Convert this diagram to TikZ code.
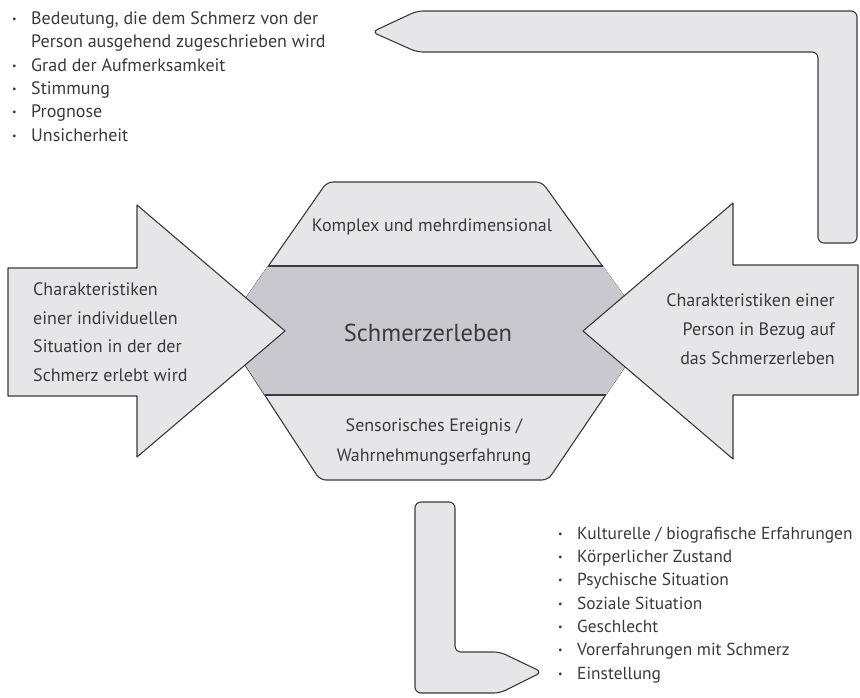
\documentclass[tikz,border=0pt]{standalone}
\usepackage{fontspec}
\setmainfont{PT Sans}
\usetikzlibrary{positioning}

\definecolor{shade}{HTML}{E6E6E8}
\definecolor{core}{HTML}{C8C8CE}
\definecolor{ink}{HTML}{3A3A3A}
\newcommand\bul{\makebox[19pt][l]{\raisebox{2pt}{\fontsize{10}{10}\selectfont\textbullet}}}
\newcommand\gap{\hspace*{19pt}}

\tikzset{
  panel/.style={draw=ink, fill=shade, line width=1.1pt, line join=round},
  soft/.style={panel, rounded corners=6pt},
  band/.style={draw=ink, line width=2.4pt},
  txt/.style={text=ink, inner sep=0pt, font=\fontsize{18}{23.3}\selectfont},
  list/.style={txt, align=left, anchor=base west},
}

\begin{document}
\begin{tikzpicture}[x=1pt, y=-1pt]
    \useasboundingbox (0,0) rectangle (860,697);

    % feedback arrow, top
    \draw[soft] (372,32) -- (417,11) -- (857,11) -- (857,243) -- (818,243)
        -- (818,52) -- (417,52) -- cycle;
    % feedforward arrow, bottom
    \draw[soft] (455,652) -- (500,652) -- (542,672) -- (500,693)
        -- (415,693) -- (415,502) -- (455,502) -- cycle;

    % hexagon
    \draw[soft] (327,182) -- (542,182) -- (649,331) -- (548,480)
        -- (320,480) -- (223,331) -- cycle;
    \fill[core] (268,266) -- (603,266) -- (649,331) -- (606,395)
        -- (265,395) -- (223,331) -- cycle;
    \draw[band] (268,266) -- (603,266);
    \draw[band] (265,395) -- (606,395);

    % side arrows
    \draw[panel] (8,268) -- (137,268) -- (137,205) -- (285,331)
        -- (137,457) -- (137,396) -- (8,396) -- cycle;
    \draw[panel] (858,265) -- (733,265) -- (733,203) -- (583,331)
        -- (733,459) -- (733,395) -- (858,395) -- cycle;

    % texts (base = last line)
    \node[txt, anchor=base] (dim) at (432,231) {Komplex und mehrdimensional};
    \node[txt, anchor=base, font=\fontsize{24.5}{28}\selectfont] (pain) at (428,341) {Schmerzerleben};
    \node[txt, align=center, anchor=base, font=\fontsize{18}{30}\selectfont] (sense) at (434,461)
        {Sensorisches Ereignis /\\Wahrnehmungserfahrung};

    \node[list, font=\fontsize{18}{28.5}\selectfont] (situ) at (33,381)
        {Charakteristiken\\einer individuellen\\Situation in der der\\Schmerz erlebt wird};
    \node[txt, align=right, anchor=base east, font=\fontsize{18}{29}\selectfont] (pers) at (835,364)
        {Charakteristiken einer\\Person in Bezug auf\\das Schmerzerleben};

    \node[list] (top) at (12,141)
        {\bul Bedeutung, die dem Schmerz von der\\
         \gap Person ausgehend zugeschrieben wird\\
         \bul Grad der Aufmerksamkeit\\
         \bul Stimmung\\
         \bul Prognose\\
         \bul Unsicherheit};
    \node[list, font=\fontsize{17.4}{23.3}\selectfont] (low) at (558,679)
        {\bul Kulturelle / biografische Erfahrungen\\
         \bul Körperlicher Zustand\\
         \bul Psychische Situation\\
         \bul Soziale Situation\\
         \bul Geschlecht\\
         \bul Vorerfahrungen mit Schmerz\\
         \bul Einstellung};
\end{tikzpicture}
\end{document}
